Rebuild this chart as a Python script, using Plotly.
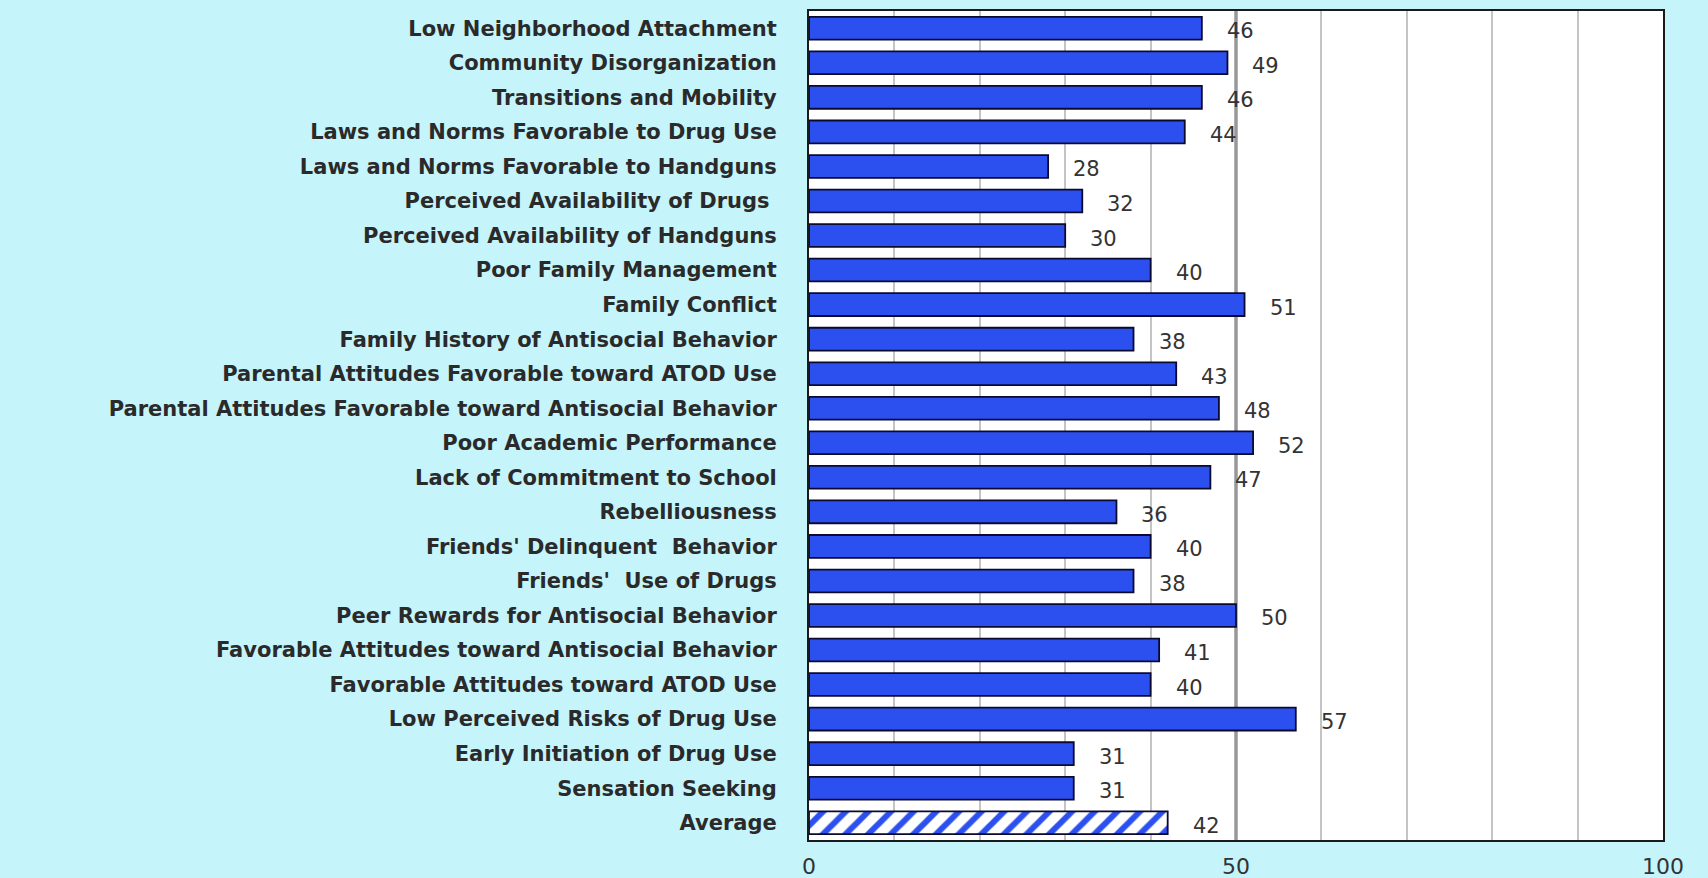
import plotly.graph_objects as go

categories = [
    "Low Neighborhood Attachment",
    "Community Disorganization",
    "Transitions and Mobility",
    "Laws and Norms Favorable to Drug Use",
    "Laws and Norms Favorable to Handguns",
    "Perceived Availability of Drugs ",
    "Perceived Availability of Handguns",
    "Poor Family Management",
    "Family Conflict",
    "Family History of Antisocial Behavior",
    "Parental Attitudes Favorable toward ATOD Use",
    "Parental Attitudes Favorable toward Antisocial Behavior",
    "Poor Academic Performance",
    "Lack of Commitment to School",
    "Rebelliousness",
    "Friends' Delinquent  Behavior",
    "Friends'  Use of Drugs",
    "Peer Rewards for Antisocial Behavior",
    "Favorable Attitudes toward Antisocial Behavior",
    "Favorable Attitudes toward ATOD Use",
    "Low Perceived Risks of Drug Use",
    "Early Initiation of Drug Use",
    "Sensation Seeking",
]
values = [46, 49, 46, 44, 28, 32, 30, 40, 51, 38, 43, 48, 52, 47, 36, 40, 38, 50, 41, 40, 57, 31, 31]
average_label = ["Average"]
average_value = [42]

tick_vals = [0, 50, 100]
tick_text = ["0", "50", "100"]
grid_vals = [10, 20, 30, 40, 60, 70, 80, 90]

all_cats = categories + average_label

BLUE = "#2C50F0"
LABEL_FONT = "DejaVu Sans"

fig = go.Figure()
fig.add_trace(go.Bar(
    y=categories, x=values, orientation="h",
    marker=dict(color=BLUE, line=dict(color="#0A0A30", width=1.8)),
    width=0.66, showlegend=False, hoverinfo="x+y",
))
fig.add_trace(go.Bar(
    y=average_label, x=average_value, orientation="h",
    marker=dict(color=BLUE, line=dict(color="#0A0A30", width=1.8),
                pattern=dict(shape="/", fgcolor=BLUE, bgcolor="white",
                             size=16, solidity=0.38, fillmode="replace")),
    width=0.66, showlegend=False, hoverinfo="x+y",
))

for c, v in zip(all_cats, values + average_value):
    fig.add_annotation(x=v, y=c, text=str(v), showarrow=False,
                       xanchor="left", xshift=23, yshift=-3,
                       font=dict(family=LABEL_FONT, size=21, color="#333333"))

fig.add_vline(x=50, line=dict(color="#989898", width=3.5), layer="below")

fig.update_layout(
    width=1708, height=878,
    paper_bgcolor="#C6F4FB", plot_bgcolor="#FFFFFF",
    margin=dict(l=809, r=45, t=11, b=38),
    barmode="overlay",
    font=dict(family=LABEL_FONT, color="#222222"),
)
fig.update_xaxes(
    range=[0, 100], tickvals=tick_vals, ticktext=tick_text,
    showgrid=False, automargin=False,
    tickfont=dict(family=LABEL_FONT, size=22, color="#333333"),
    showline=True, linecolor="#1A1A1A", linewidth=2, mirror=True,
    ticks="", ticklabelstandoff=6, zeroline=False,
    minor=dict(tickvals=grid_vals, showgrid=True, gridcolor="#C4C4C4", gridwidth=2),
)
fig.update_yaxes(
    categoryorder="array", categoryarray=all_cats, autorange="reversed",
    automargin=False,
    tickfont=dict(family=LABEL_FONT, size=21, color="#2A2A2A", weight="bold"),
    showline=True, linecolor="#1A1A1A", linewidth=2, mirror=True,
    ticks="", ticklabelstandoff=26, showgrid=False,
)

fig.write_html("out.html", config={"displayModeBar": False},
               post_script="document.body.style.margin='0';document.body.style.overflow='hidden';")
